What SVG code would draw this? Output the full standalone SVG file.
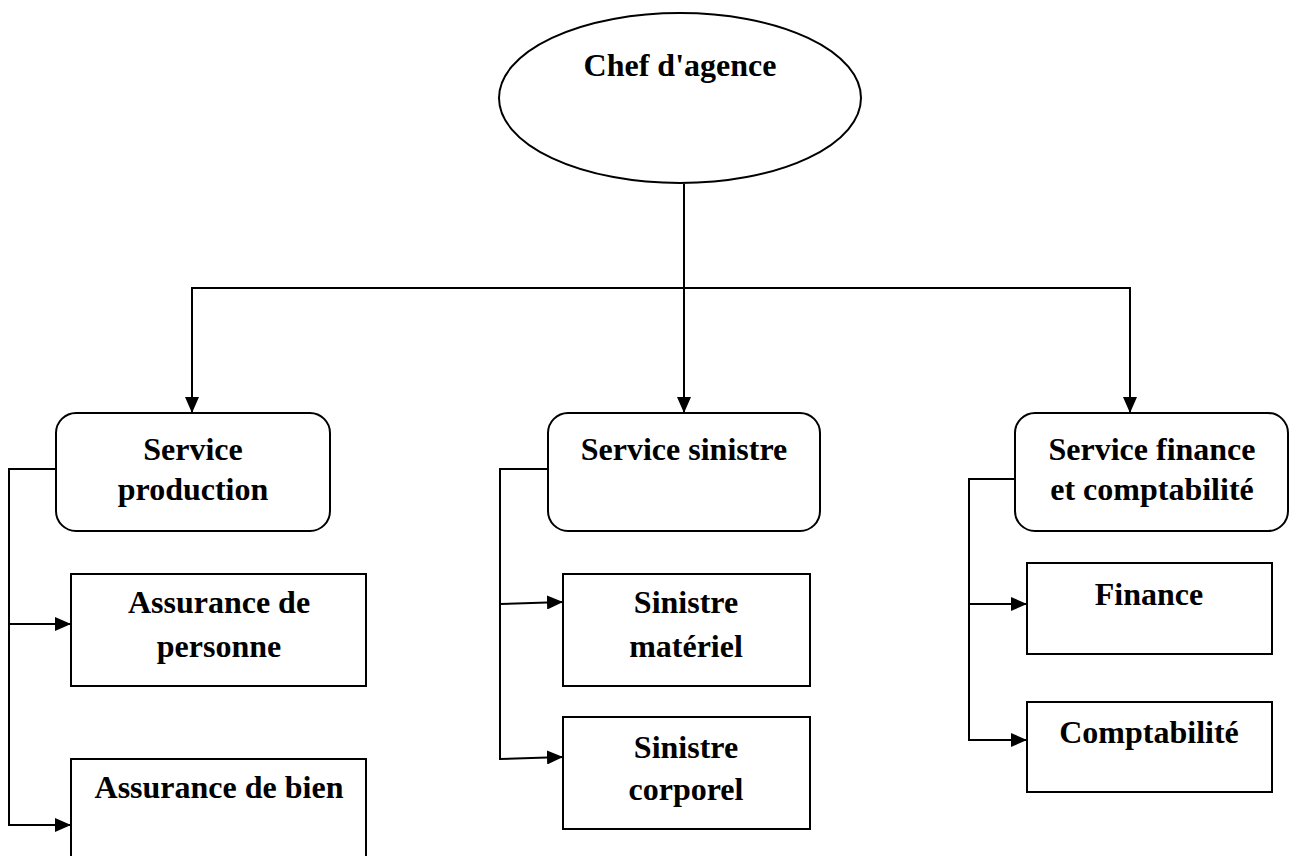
<svg xmlns="http://www.w3.org/2000/svg" width="1290" height="856" viewBox="0 0 1290 856">
  <style>
    .shape { fill: #fff; stroke: #000; stroke-width: 2; }
    .wire { fill: none; stroke: #000; stroke-width: 2; }
    .label { font-family: "Liberation Serif", "Times New Roman", serif; font-weight: bold; font-size: 32px; text-anchor: middle; fill: #000; }
  </style>
  <defs>
    <marker id="arrow" viewBox="0 0 16 14" refX="16" refY="7" markerWidth="16" markerHeight="14" markerUnits="userSpaceOnUse" orient="auto">
      <path d="M0,0 L16,7 L0,14 Z" fill="#000"/>
    </marker>
  </defs>
  <rect width="1290" height="856" fill="#fff"/>

  <g id="connectors">
    <!-- chef to the three services -->
    <line class="wire" x1="684" y1="184" x2="684" y2="413" marker-end="url(#arrow)"/>
    <polyline class="wire" points="192,413 192,288 1130,288 1130,413" marker-end="url(#arrow)"/>
    <line class="wire" x1="192" y1="288" x2="192" y2="413" marker-end="url(#arrow)"/>
    <!-- service production -->
    <polyline class="wire" points="56,469 9,469 9,825 71,825" marker-end="url(#arrow)"/>
    <line class="wire" x1="9" y1="624" x2="71" y2="624" marker-end="url(#arrow)"/>
    <!-- service sinistre -->
    <polyline class="wire" points="548,469 500,469 500,759 563,757" marker-end="url(#arrow)"/>
    <line class="wire" x1="500" y1="604" x2="563" y2="602" marker-end="url(#arrow)"/>
    <!-- service finance -->
    <polyline class="wire" points="1015,479 969,479 969,740 1027,740" marker-end="url(#arrow)"/>
    <line class="wire" x1="969" y1="604" x2="1027" y2="604" marker-end="url(#arrow)"/>
  </g>

  <g id="chef">
    <ellipse class="shape" cx="680" cy="98" rx="181" ry="85"/>
    <text class="label" x="680" y="76">Chef d'agence</text>
  </g>

  <g id="service-production">
    <rect class="shape" x="56" y="413" width="274" height="118" rx="20"/>
    <text class="label" x="193" y="460">Service</text>
    <text class="label" x="193" y="500">production</text>
  </g>
  <g id="assurance-personne">
    <rect class="shape" x="71" y="574" width="295" height="112"/>
    <text class="label" x="219" y="613">Assurance de</text>
    <text class="label" x="219" y="657">personne</text>
  </g>
  <g id="assurance-bien">
    <rect class="shape" x="71" y="759" width="295" height="110"/>
    <text class="label" x="219" y="798">Assurance de bien</text>
  </g>

  <g id="service-sinistre">
    <rect class="shape" x="548" y="413" width="272" height="118" rx="20"/>
    <text class="label" x="684" y="460">Service sinistre</text>
  </g>
  <g id="sinistre-materiel">
    <rect class="shape" x="563" y="574" width="247" height="112"/>
    <text class="label" x="686" y="613">Sinistre</text>
    <text class="label" x="686" y="657">matériel</text>
  </g>
  <g id="sinistre-corporel">
    <rect class="shape" x="563" y="717" width="247" height="112"/>
    <text class="label" x="686" y="758">Sinistre</text>
    <text class="label" x="686" y="800">corporel</text>
  </g>

  <g id="service-finance">
    <rect class="shape" x="1015" y="413" width="273" height="118" rx="20"/>
    <text class="label" x="1152" y="460">Service finance</text>
    <text class="label" x="1152" y="500">et comptabilité</text>
  </g>
  <g id="finance">
    <rect class="shape" x="1027" y="563" width="245" height="91"/>
    <text class="label" x="1149" y="605">Finance</text>
  </g>
  <g id="comptabilite">
    <rect class="shape" x="1027" y="702" width="245" height="90"/>
    <text class="label" x="1149" y="743">Comptabilité</text>
  </g>
</svg>
